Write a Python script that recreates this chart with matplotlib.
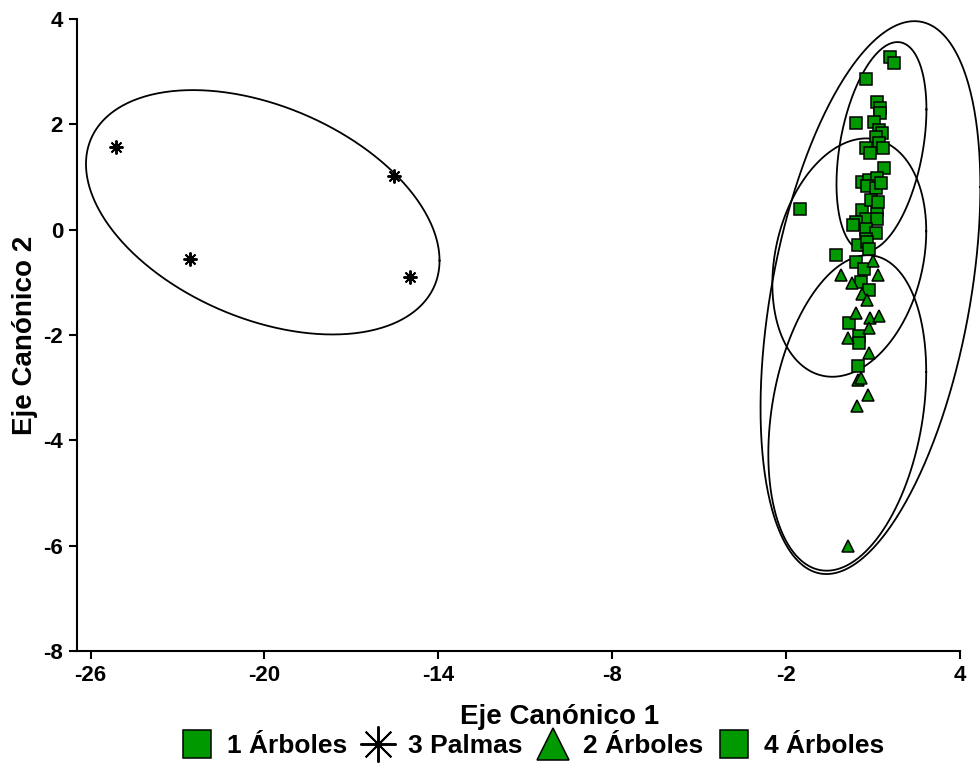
import matplotlib
matplotlib.use('Agg')
import matplotlib.pyplot as plt
import numpy as np

plt.rcParams['font.family'] = ['Liberation Sans', 'DejaVu Sans']
plt.rcParams['font.weight'] = 'bold'
plt.rcParams['axes.unicode_minus'] = False

# canonical scores
arb4_x = [1.60, 1.73, 0.77, 1.15, 1.25, 1.25, 0.42, 1.04, 1.22, 1.32, 1.11, 1.22,
          0.77, 0.91, 1.36, 1.39, 0.63, 0.87, 1.15, 0.80, 1.11, 1.29, 0.94, 1.18]
arb4_y = [3.28, 3.16, 2.86, 2.42, 2.31, 2.21, 2.02, 2.04, 1.89, 1.83, 1.76, 1.64,
          1.55, 1.45, 1.55, 1.17, 0.90, 0.94, 0.98, 0.82, 0.80, 0.88, 0.56, 0.52]

arb1_x = [0.63, 1.15, 0.77, 0.42, 1.15, 0.32, 0.77, 1.11, 0.77, 0.49, 0.80, 0.87,
          -1.51, -0.27, 0.42, 0.70, 0.60, 0.87, 0.18, 0.53, 0.53, 0.49]
arb1_y = [0.37, 0.37, 0.21, 0.14, 0.21, 0.08, 0.02, -0.07, -0.17, -0.30, -0.24, -0.37,
          0.39, -0.49, -0.62, -0.74, -1.00, -1.15, -1.78, -2.01, -2.16, -2.58]

arb2_x = [1.01, -0.09, 1.18, 0.29, 0.63, 0.80, 0.42, 0.91, 1.22, 0.87, 0.15, 0.87,
          0.49, 0.60, 0.84, 0.46, 0.15]
arb2_y = [-0.60, -0.87, -0.87, -1.02, -1.23, -1.34, -1.59, -1.67, -1.63, -1.86, -2.05, -2.35,
          -2.85, -2.81, -3.13, -3.34, -6.00]

palm_x = [-25.13, -22.58, -15.54, -14.99]
palm_y = [1.57, -0.55, 1.01, -0.89]

# ellipses: centre x, centre y, half extent x, half extent y, correlation
ell_cx = [-20.06, 1.29, 0.18, 0.11, 0.91]
ell_cy = [0.33, 1.575, -0.53, -3.48, -1.29]
ell_sx = [6.10, 1.552, 2.655, 2.724, 3.793]
ell_sy = [2.32, 1.987, 2.263, 2.995, 5.249]
ell_r = [-0.395, 0.356, 0.221, 0.26, 0.40]

green = '#009900'

fig = plt.figure(figsize=(9.8, 7.8), dpi=100)
ax = fig.add_axes([77/980, 1 - 651/780, (960 - 77)/980, (651 - 19)/780])

t = np.linspace(0, 2*np.pi, 400)
for cx, cy, sx, sy, r in zip(ell_cx, ell_cy, ell_sx, ell_sy, ell_r):
    cov = np.array([[sx*sx, r*sx*sy], [r*sx*sy, sy*sy]])
    L = np.linalg.cholesky(cov)
    pts = L @ np.vstack([np.cos(t), np.sin(t)])
    ax.plot(cx + pts[0], cy + pts[1], color='black', lw=1.3, clip_on=False, zorder=2)

mk = dict(linestyle='none', markeredgecolor='black', markeredgewidth=1.1, zorder=3)
h1, = ax.plot(arb1_x, arb1_y, marker='s', markersize=8, color=green, **mk)
h3, = ax.plot(palm_x, palm_y, marker=(8, 2, 0), markersize=10, color='black',
              linestyle='none', markeredgewidth=1.4, zorder=3)
h2, = ax.plot(arb2_x, arb2_y, marker='^', markersize=9, color=green, **mk)
h4, = ax.plot(arb4_x, arb4_y, marker='s', markersize=8, color=green, **mk)

ax.set_xlim(-26.47, 4)
ax.set_ylim(-8, 4)
ax.set_xticks(np.arange(-26, 5, 6))
ax.set_yticks(np.arange(-8, 5, 2))
for s in ['top', 'right']:
    ax.spines[s].set_visible(False)
for s in ['left', 'bottom']:
    ax.spines[s].set_linewidth(1.5)
ax.tick_params(width=1.5, length=6, labelsize=16, pad=4)
for lab in ax.get_xticklabels() + ax.get_yticklabels():
    lab.set_fontweight('bold')

fig.text(560/980, 1 - 717/780, 'Eje Canónico 1', ha='center', va='center',
         fontsize=20, fontweight='bold')
fig.text(25/980, 1 - 335/780, 'Eje Canónico 2', ha='center', va='center',
         rotation=90, fontsize=20, fontweight='bold')

fig.legend([h1, h3, h2, h4], ['1 Árboles', '3 Palmas', '2 Árboles', '4 Árboles'],
           loc='center', bbox_to_anchor=(532/980, 1 - 746/780), ncol=4,
           frameon=False, markerscale=2.6, handletextpad=0.5,
           columnspacing=0.5, handlelength=1.3,
           prop={'weight': 'bold', 'size': 19})

fig.savefig('out.png', dpi=100)
